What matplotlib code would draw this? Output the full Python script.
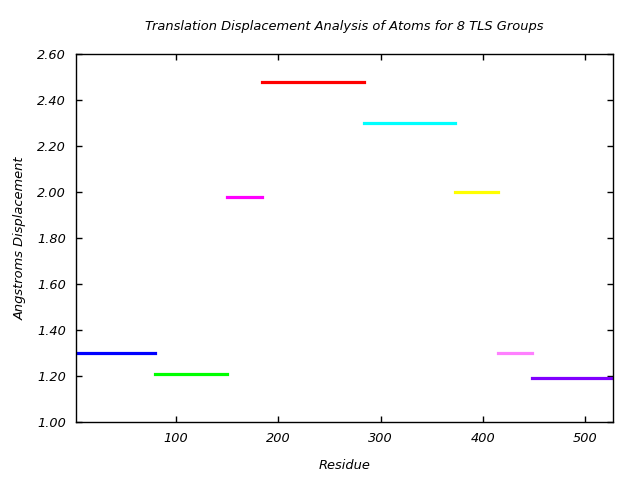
import matplotlib
matplotlib.use('Agg')
import matplotlib.pyplot as plt

# TLS group segments: residue ranges and displacement
seg_start = [2, 79, 150, 184, 284, 373, 415, 448]
seg_end = [79, 150, 184, 284, 373, 415, 448, 527]
displacement = [1.30, 1.21, 1.98, 2.48, 2.30, 2.00, 1.30, 1.19]
colors = ['#0000ff', '#00ff00', '#ff00ff', '#ff0000', '#00ffff', '#ffff00', '#ff80ff', '#8000ff']

xticks = [100, 200, 300, 400, 500]
yticks = [1.0, 1.2, 1.4, 1.6, 1.8, 2.0, 2.2, 2.4, 2.6]

plt.rcParams['font.family'] = ['DejaVu Sans']
fig = plt.figure(figsize=(6.4, 4.8), dpi=100)
ax = fig.add_axes([0.11875, 0.1208, 0.9573 - 0.11875, 0.8875 - 0.1208])

for x0, x1, y, c in zip(seg_start, seg_end, displacement, colors):
    ax.plot([x0, x1], [y, y], color=c, lw=2.3, solid_capstyle='projecting')

ax.set_xlim(2, 527)
ax.set_ylim(1.0, 2.6)
ax.set_xticks(xticks)
ax.set_yticks(yticks)
ax.set_yticklabels(['%.2f' % v for v in yticks])
ax.tick_params(direction='in', top=True, right=True, length=4, width=1,
               labelsize=9.3, pad=7)
for lab in ax.get_xticklabels() + ax.get_yticklabels():
    lab.set_style('italic')
for s in ax.spines.values():
    s.set_linewidth(1)

ax.set_title('Translation Displacement Analysis of Atoms for 8 TLS Groups',
             fontsize=9.4, style='italic', pad=17)
ax.set_xlabel('Residue', fontsize=9.4, style='italic', labelpad=10)
ax.set_ylabel('Angstroms Displacement', fontsize=9.4, style='italic', labelpad=8)

fig.savefig('out.png', dpi=100)
